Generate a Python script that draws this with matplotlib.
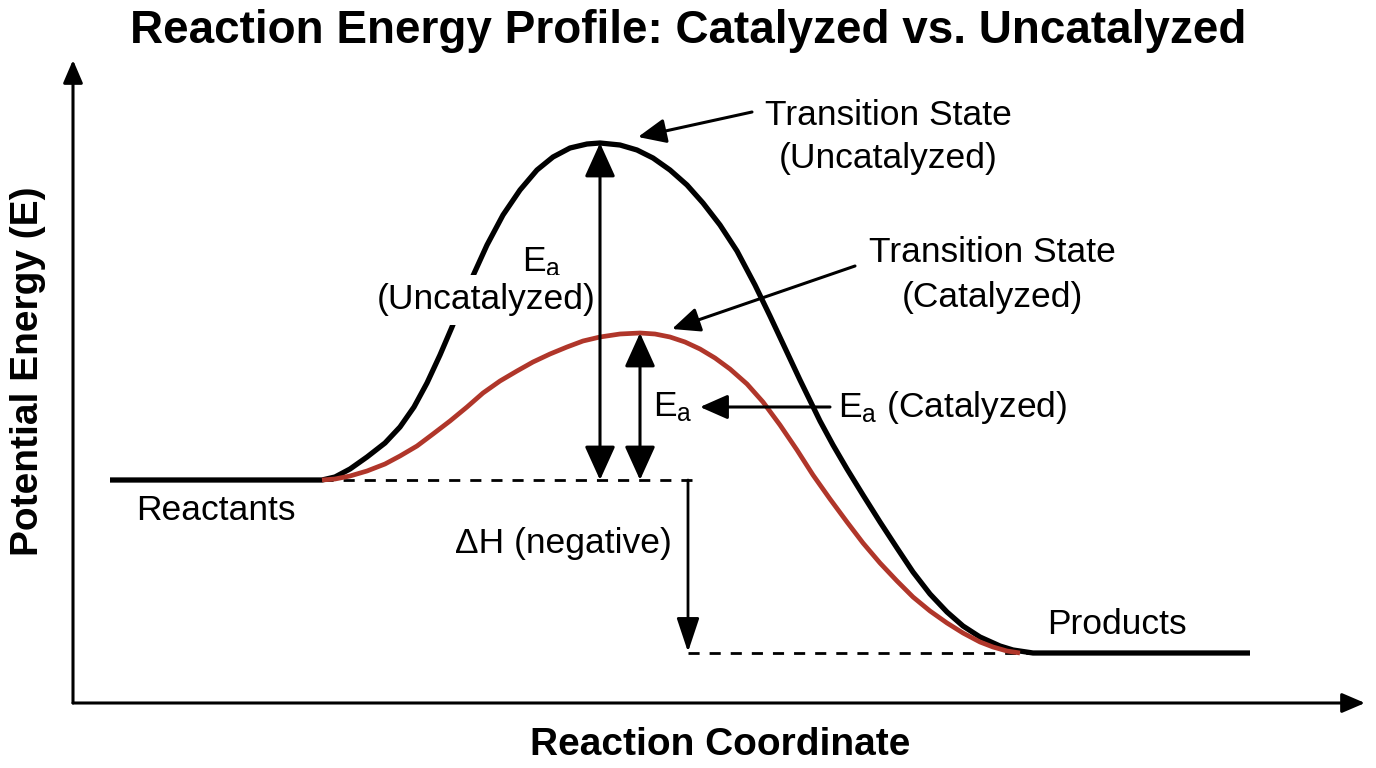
import matplotlib
matplotlib.use('Agg')
import matplotlib.pyplot as plt
from matplotlib.patches import FancyArrowPatch

plt.rcParams['font.family'] = ['Liberation Sans', 'DejaVu Sans']
plt.rcParams['mathtext.fontset'] = 'custom'
plt.rcParams['mathtext.rm'] = 'Liberation Sans'
plt.rcParams['mathtext.it'] = 'Liberation Sans:italic'

# reaction coordinate / energy
uncat_x = [0.37, 2.49, 2.62, 2.77, 2.94, 3.12, 3.27, 3.41, 3.54, 3.67, 3.79, 3.89, 3.99, 4.14,
           4.30, 4.47, 4.64, 4.80, 4.97, 5.14, 5.27, 5.47, 5.64, 5.80, 5.97, 6.14, 6.30, 6.47,
           6.64, 6.82, 6.97, 7.12, 7.27, 7.47, 7.60, 7.74, 7.90, 8.07, 8.24, 8.40, 8.57, 8.74,
           8.90, 9.07, 9.27, 9.40, 9.60, 11.77]
uncat_e = [22.3, 22.3, 22.6, 23.4, 24.6, 26.0, 27.6, 29.6, 32.0, 34.8, 37.6, 40.1, 42.5, 45.8,
           48.8, 51.3, 53.3, 54.6, 55.5, 55.9, 56.0, 55.8, 55.3, 54.5, 53.3, 51.8, 50.0, 47.8,
           45.2, 41.8, 38.7, 35.5, 32.3, 28.2, 25.8, 23.4, 20.8, 18.1, 15.5, 13.1, 10.9, 9.1,
           7.7, 6.6, 5.7, 5.3, 5.0, 5.0]
cat_x = [2.49, 2.62, 2.77, 2.94, 3.12, 3.27, 3.44, 3.60, 3.77, 3.94, 4.10, 4.27, 4.44, 4.60,
         4.77, 4.94, 5.10, 5.27, 5.47, 5.67, 5.82, 5.97, 6.12, 6.27, 6.42, 6.57, 6.74, 6.90,
         7.07, 7.24, 7.40, 7.57, 7.74, 7.90, 8.07, 8.24, 8.40, 8.57, 8.74, 8.90, 9.07, 9.20,
         9.34, 9.47]
cat_e = [22.3, 22.4, 22.7, 23.2, 23.9, 24.7, 25.7, 26.9, 28.2, 29.6, 31.0, 32.2, 33.2, 34.1,
         34.9, 35.6, 36.2, 36.6, 36.9, 37.0, 36.9, 36.6, 36.1, 35.4, 34.5, 33.4, 31.9, 30.1,
         27.8, 25.3, 22.8, 20.4, 18.1, 16.0, 14.0, 12.2, 10.6, 9.2, 8.0, 7.0, 6.1, 5.6,
         5.2, 5.0]
e_react = 22.3
e_prod = 5.0

red = '#b0362a'

fig = plt.figure(figsize=(13.76, 7.68), dpi=100)
ax = fig.add_axes([73 / 1376, 65 / 768, 1292 / 1376, 643 / 768])
ax.set_xlim(0, 12.92)
ax.set_ylim(0, 64.3)
ax.axis('off')

# axes with arrow heads
for end in [(0, 1), (1, 0)]:
    ax.add_patch(FancyArrowPatch((0, 0), end, transform=ax.transAxes, arrowstyle='-|>,head_length=14,head_width=6',
                                 mutation_scale=1, lw=2.2, color='black', shrinkA=0, shrinkB=0, clip_on=False))

ax.plot(uncat_x, uncat_e, color='black', lw=3.8, solid_capstyle='butt', solid_joinstyle='round', zorder=2)
ax.plot(cat_x, cat_e, color=red, lw=3.4, solid_capstyle='butt', solid_joinstyle='round', zorder=2.1)

# reference levels
ax.plot([cat_x[0], 6.24], [e_react, e_react], color='black', lw=2, ls=(0, (4, 3.6)), zorder=1)
ax.plot([6.15, uncat_x[-2]], [e_prod, e_prod], color='black', lw=2, ls=(0, (4, 3.6)), zorder=1)


def arrow(p0, p1, style, lw=2.2):
    ax.add_patch(FancyArrowPatch(p0, p1, arrowstyle=style, mutation_scale=1, lw=lw, color='black',
                                 shrinkA=0, shrinkB=0, zorder=5))


big = '<|-|>,head_length=21,head_width=9.5'
i_u = uncat_e.index(max(uncat_e))
i_c = cat_e.index(max(cat_e))
arrow((uncat_x[i_u], e_react), (uncat_x[i_u], uncat_e[i_u]), big)
arrow((cat_x[i_c], e_react), (cat_x[i_c], cat_e[i_c]), big)
arrow((6.15, e_react), (6.15, e_prod + 0.1), '-|>,head_length=21,head_width=7', lw=2)

small = '-|>,head_length=17,head_width=7.5'
arrow((6.79, 59.1), (5.65, 56.6), small)
arrow((7.82, 43.7), (5.99, 37.4), small)
arrow((7.57, 29.6), (6.27, 29.6), small)

fs = 25.5
ax.text(8.15, 57.8, 'Transition State', fontsize=fs, ha='center', va='baseline')
ax.text(8.15, 53.5, '(Uncatalyzed)', fontsize=fs, ha='center', va='baseline')
ax.text(9.19, 44.1, 'Transition State', fontsize=fs, ha='center', va='baseline')
ax.text(9.19, 39.6, '(Catalyzed)', fontsize=fs, ha='center', va='baseline')
ax.text(4.69, 44.1, r'E$_\mathrm{a}$', fontsize=fs, ha='center', va='center', zorder=3)
ax.text(4.13, 40.3, '(Uncatalyzed)', fontsize=fs, ha='center', va='center', zorder=3,
        bbox=dict(boxstyle='square,pad=0.25', fc='white', ec='none'))
ax.text(6.00, 29.6, r'E$_\mathrm{a}$', fontsize=fs, ha='center', va='center')
ax.text(7.65, 29.6, r'E$_\mathrm{a}$ (Catalyzed)', fontsize=fs, ha='left', va='center')
ax.text(4.90, 16.0, '\u0394H (negative)', fontsize=fs, ha='center', va='center')
ax.text(1.43, 19.2, 'Reactants', fontsize=fs, ha='center', va='center')
ax.text(10.44, 7.9, 'Products', fontsize=fs, ha='center', va='center')

fig.text(688 / 1376, 1 - 31 / 768, 'Reaction Energy Profile: Catalyzed vs. Uncatalyzed',
         fontsize=33, fontweight='bold', ha='center', va='center')
fig.text(720 / 1376, 1 - 745 / 768, 'Reaction Coordinate', fontsize=28, fontweight='bold',
         ha='center', va='center')
fig.text(28 / 1376, 1 - 371 / 768, 'Potential Energy (E)', fontsize=28, fontweight='bold',
         ha='center', va='center', rotation=90)

fig.savefig('out.png', dpi=100)
